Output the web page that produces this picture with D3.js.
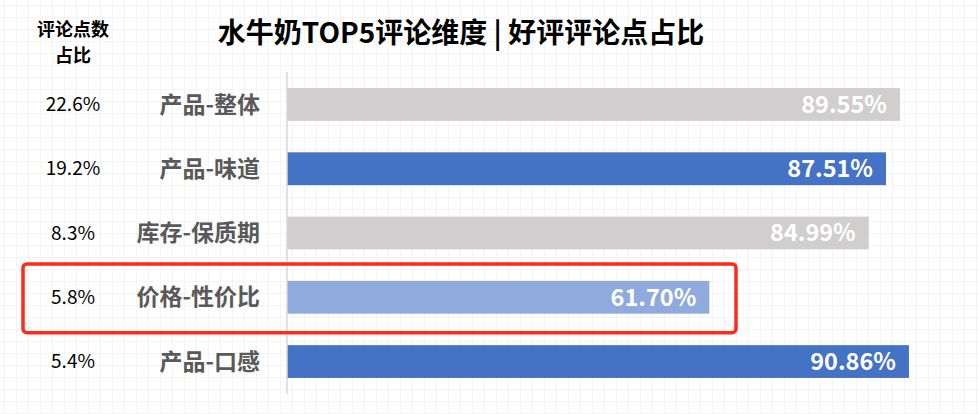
<!DOCTYPE html>
<html>
<head>
<meta charset="utf-8">
<script src="https://cdn.jsdelivr.net/npm/d3@7"></script>
<style>
  html, body { margin: 0; padding: 0; background: #fff; }
  svg { display: block; font-family: "Noto Sans CJK SC", "Noto Sans", sans-serif; }
</style>
</head>
<body>
<svg id="svg" width="979" height="414"></svg>
<script>
// 数据
const categories = ["产品-整体", "产品-味道", "库存-保质期", "价格-性价比", "产品-口感"];
const goodRates = [89.55, 87.51, 84.99, 61.70, 90.86];
const shareLabels = ["22.6%", "19.2%", "8.3%", "5.8%", "5.4%"];
const barColors = ["#d0cece", "#4472c4", "#d0cece", "#8faadc", "#4472c4"];
const highlightIndex = 3;

const W = 979, H = 414;
const svg = d3.select("#svg");

// 背景网格（表格底纹）
const grid = svg.append("g");
for (let x = 4; x < W; x += 12) {
  grid.append("line").attr("x1", x + 0.5).attr("x2", x + 0.5).attr("y1", 0).attr("y2", H)
    .attr("stroke", "#f4f4f4").attr("stroke-width", 1);
}
for (let y = 5; y < H; y += 12) {
  grid.append("line").attr("x1", 0).attr("x2", W).attr("y1", y + 0.5).attr("y2", y + 0.5)
    .attr("stroke", "#f4f4f4").attr("stroke-width", 1);
}

// 比例尺
const x = d3.scaleLinear().domain([0, 100]).range([287, 971.5]);
const y = d3.scaleBand().domain(categories).range([72, 394]).paddingInner(0.49).paddingOuter(0.25);

// 标题
svg.append("text")
  .attr("x", 461).attr("y", 43)
  .attr("text-anchor", "middle")
  .style("font-size", "28px").style("font-weight", "bold").attr("fill", "#000")
  .text("水牛奶TOP5评论维度 | 好评评论点占比");

// 左侧表头
svg.append("text").attr("x", 73).attr("y", 35.5).attr("text-anchor", "middle")
  .style("font-size", "18px").style("font-weight", "bold").text("评论点数");
svg.append("text").attr("x", 73).attr("y", 62).attr("text-anchor", "middle")
  .style("font-size", "18px").style("font-weight", "bold").text("占比");

// 条形
svg.append("g").selectAll("rect")
  .data(categories)
  .join("rect")
  .attr("x", x(0))
  .attr("y", d => y(d))
  .attr("width", (d, i) => x(goodRates[i]) - x(0))
  .attr("height", y.bandwidth())
  .attr("fill", (d, i) => barColors[i]);

// 纵轴线
svg.append("line")
  .attr("x1", x(0)).attr("x2", x(0))
  .attr("y1", 72).attr("y2", 394)
  .attr("stroke", "#d9d9d9").attr("stroke-width", 1.5);

// 类别标签
svg.append("g").selectAll("text")
  .data(categories)
  .join("text")
  .attr("x", 260)
  .attr("y", d => y(d) + y.bandwidth() / 2)
  .attr("dy", "0.35em")
  .attr("text-anchor", "end")
  .attr("fill", "#595959")
  .style("font-size", "23px").style("font-weight", "bold")
  .text(d => d);

// 评论点数占比
svg.append("g").selectAll("text")
  .data(categories)
  .join("text")
  .attr("x", 73)
  .attr("y", d => y(d) + y.bandwidth() / 2)
  .attr("dy", "0.35em")
  .attr("text-anchor", "middle")
  .attr("fill", "#000")
  .style("font-size", "19px")
  .text((d, i) => shareLabels[i]);

// 数值标签
svg.append("g").selectAll("text")
  .data(categories)
  .join("text")
  .attr("x", (d, i) => x(goodRates[i]) - 13)
  .attr("y", d => y(d) + y.bandwidth() / 2)
  .attr("dy", "0.36em")
  .attr("text-anchor", "end")
  .attr("fill", "#fff")
  .style("font-size", "23.5px").style("font-weight", "bold")
  .text((d, i) => goodRates[i].toFixed(2) + "%");

// 红色高亮框
const hc = categories[highlightIndex];
svg.append("rect")
  .attr("x", 23).attr("y", y(hc) - 17)
  .attr("width", 713).attr("height", y.bandwidth() + 36)
  .attr("rx", 4)
  .attr("fill", "none")
  .attr("stroke", "#ff2a1a").attr("stroke-width", 3.5);
</script>
</body>
</html>
